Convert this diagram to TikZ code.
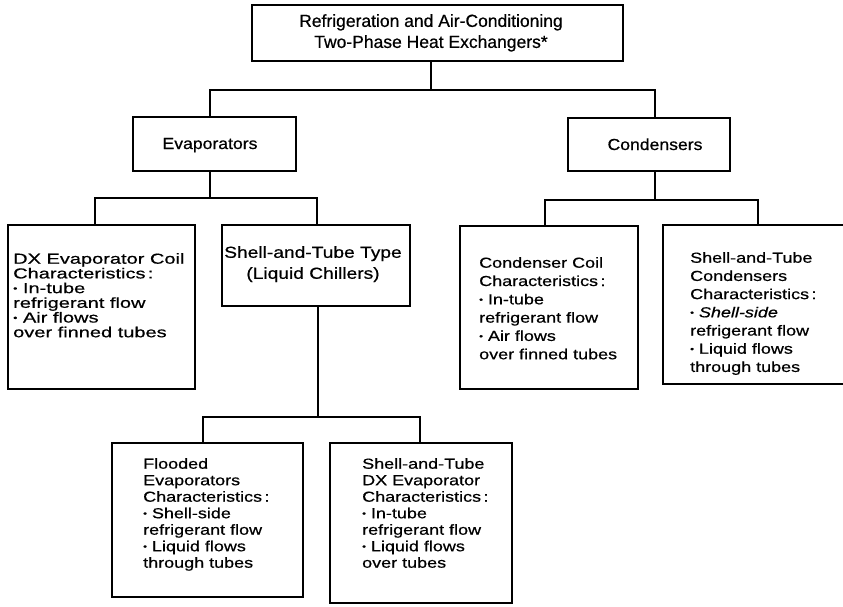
\documentclass[tikz,border=0pt]{standalone}
\usepackage{fontspec}
\usepackage{graphicx}
\newfontfamily\hdfont[FakeBold=0.6]{Liberation Sans}
\newfontfamily\mdfont[FakeStretch=1.1,FakeBold=0.6]{Liberation Sans}
\newfontfamily\stfont[FakeStretch=1.2,FakeBold=0.6]{Liberation Sans}
\newfontfamily\lfA[FakeStretch=1.38,FakeBold=0.6]{Liberation Sans}
\newfontfamily\lfB[FakeStretch=1.24,FakeBold=0.6]{Liberation Sans}
\newcommand\bul{\raisebox{0.12em}{\scalebox{0.6}{•}}}
\tikzset{
  box/.style={draw, line width=2.4pt, inner sep=0pt},
  conn/.style={draw, line width=1.6pt},
  txt/.style={inner sep=0pt, align=left, anchor=north west},
}
\begin{document}
\begin{tikzpicture}[x=1pt, y=-1pt]
\useasboundingbox (0,0) rectangle (843,606);
\clip (0,0) rectangle (843,606);
\fill[white] (0,0) rectangle (843,606);
% boxes
\node[box, minimum width=371, minimum height=56] (top) at (437.5,33) {};
\node[box, minimum width=163, minimum height=54] (evap) at (214.5,144) {};
\node[box, minimum width=162, minimum height=53] (cond) at (649,144.5) {};
\node[box, minimum width=187, minimum height=164] (dx) at (101.5,307) {};
\node[box, minimum width=188, minimum height=81] (shelltype) at (316,265.5) {};
\node[box, minimum width=178, minimum height=163] (condcoil) at (549,307.5) {};
\node[box, minimum width=190, minimum height=159] (stcond) at (758,304.5) {};
\node[box, minimum width=191, minimum height=154] (flooded) at (207.5,520) {};
\node[box, minimum width=182, minimum height=160] (stdx) at (421,523) {};
% texts
\node[inner sep=0pt, align=center, anchor=north, font=\hdfont\fontsize{17.5}{21}\selectfont] (toptxt) at (431,14)
  {Refrigeration and Air-Conditioning\\Two-Phase Heat Exchangers*};
\node[inner sep=0pt, anchor=base, font=\mdfont\fontsize{16}{18}\selectfont] (evaptxt) at (210,149) {Evaporators};
\node[inner sep=0pt, anchor=base, font=\mdfont\fontsize{16}{18}\selectfont] (condtxt) at (655,150) {Condensers};
\node[inner sep=0pt, align=center, anchor=north, font=\stfont\fontsize{16}{21}\selectfont] (shelltypetxt) at (313,246)
  {Shell-and-Tube Type\\(Liquid Chillers)};
\node[txt, font=\lfA\fontsize{14.5}{14.7}\selectfont] (dxtxt) at (13,253)
  {DX Evaporator Coil\\Characteristics\,:\\\bul{} In-tube\\refrigerant flow\\\bul{} Air flows\\over finned tubes};
\node[txt, font=\lfB\fontsize{14.5}{18.3}\selectfont] (condcoiltxt) at (479,257)
  {Condenser Coil\\Characteristics\,:\\\bul{} In-tube\\refrigerant flow\\\bul{} Air flows\\over finned tubes};
\node[txt, font=\lfB\fontsize{14.5}{18.2}\selectfont] (stcondtxt) at (690,252)
  {Shell-and-Tube\\Condensers\\Characteristics\,:\\\bul{} \textit{Shell-side}\\refrigerant flow\\\bul{} Liquid flows\\through tubes};
\node[txt, font=\lfB\fontsize{14.5}{16.5}\selectfont] (floodedtxt) at (143,458)
  {Flooded\\Evaporators\\Characteristics\,:\\\bul{} Shell-side\\refrigerant flow\\\bul{} Liquid flows\\through tubes};
\node[txt, font=\lfB\fontsize{14.5}{16.5}\selectfont] (stdxtxt) at (362,458)
  {Shell-and-Tube\\DX Evaporator\\Characteristics\,:\\\bul{} In-tube\\refrigerant flow\\\bul{} Liquid flows\\over tubes};
% connectors
\draw[conn] ([xshift=-6.5pt]top.south) -- ++(0,28) coordinate (j1);
\draw[conn] ([xshift=-4.5pt]evap.north) |- (j1) -| ([xshift=6pt]cond.north);
\draw[conn] ([xshift=-4.5pt]evap.south) -- ++(0,26) coordinate (j2);
\draw[conn] ([xshift=-6.5pt]dx.north) |- (j2) -| ([xshift=1pt]shelltype.north);
\draw[conn] ([xshift=6pt]cond.south) -- ++(0,28) coordinate (j3);
\draw[conn] ([xshift=-4pt]condcoil.north) |- (j3) -| (stcond.north);
\draw[conn] ([xshift=2pt]shelltype.south) -- ++(0,110) coordinate (j4);
\draw[conn] ([xshift=-4.5pt]flooded.north) |- (j4) -| ([xshift=-1pt]stdx.north);
\end{tikzpicture}
\end{document}
